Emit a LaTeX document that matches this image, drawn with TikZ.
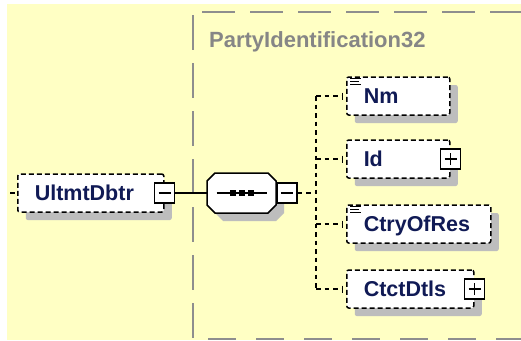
\documentclass[tikz,border=0pt]{standalone}
\usepackage{fontspec}
\setmainfont{Liberation Sans}
\usepackage{xcolor}
\usepackage{tikz}
\usetikzlibrary{arrows.meta, positioning, shadows}
\definecolor{xpaper}{HTML}{FFFFC4}
\definecolor{xgroup}{HTML}{8E8E8E}
\definecolor{xlabel}{HTML}{868686}
\definecolor{xname}{HTML}{101A55}
\definecolor{xshadow}{HTML}{BDBDBD}

\begin{document}
\begin{tikzpicture}[x=1pt, y=-1pt,
  shade8/.style={drop shadow={shadow xshift=8pt, shadow yshift=-8pt, fill=xshadow, opacity=1}},
  elem/.style={draw, fill=white, line width=1.5pt, dash pattern=on 5pt off 3pt,
    rounded corners=2pt, anchor=west, minimum height=38pt, inner xsep=17pt,
    text width=#1, align=left, text height=15.5pt, text depth=0pt,
    font=\fontsize{21.5}{24}\selectfont\bfseries, text=xname, shade8},
  ctlbox/.style={draw, fill=white, line width=1.5pt, minimum size=20pt, inner sep=0pt},
  minusbox/.style={ctlbox, path picture={
    \draw[line width=1.3pt] ([xshift=4pt]path picture bounding box.west) -- ([xshift=-4pt]path picture bounding box.east);}},
  plusbox/.style={ctlbox, path picture={
    \draw[line width=1.3pt] ([xshift=4pt]path picture bounding box.west) -- ([xshift=-4pt]path picture bounding box.east);
    \draw[line width=1.3pt] ([yshift=4pt]path picture bounding box.south) -- ([yshift=-4pt]path picture bounding box.north);}},
  link/.style={line width=1.8pt, dash pattern=on 4.5pt off 4pt},
  tick/.style={-{Bar[width=7pt, line width=1.4pt]}, shorten >=3pt}]
\useasboundingbox (0,0) rectangle (521,340);
\fill[white] (0,0) rectangle (521,340);
\fill[xpaper] (7,4) rectangle (521,340);
% group frame
\draw[xgroup, line width=2.5pt, dash pattern=on 35pt off 13pt] (193,15) -- (193,340);
\draw[xgroup, line width=2.5pt, dash pattern=on 33pt off 15pt] (202,12) -- (525,12);
\draw[xgroup, line width=2.5pt, dash pattern=on 28pt off 20pt] (208,339) -- (525,339);
\node[font=\fontsize{22}{24}\selectfont\bfseries, text=xlabel, anchor=base west, inner sep=0pt]
  (grplabel) at (209,47) {PartyIdentification32};

\node[elem=112pt] (ultm) at (17,193) {UltmtDbtr};
\node[minusbox] (ultmctl) at (ultm.east) {};
\coordinate (ultmin) at (10,193);
\draw[link] (ultmin) -- (ultm.west);

% sequence compositor
\draw[fill=white, line width=1.5pt, shade8] (215,173) -- (268,173) -- (276,181) -- (276,205)
  -- (268,213) -- (215,213) -- (207,205) -- (207,181) -- cycle;
\node[minimum width=69pt, minimum height=40pt, inner sep=0pt] (seq) at (241.5,193) {};
\draw[line width=1.5pt] ([xshift=-25pt]seq.center) -- ([xshift=25pt]seq.center);
\foreach \dx in {-9,0,9}
  \fill ([xshift=\dx pt]seq.center) +(-3,-3) rectangle +(3,3);
\node[minusbox, right=0pt of seq] (seqctl) {};
\draw[line width=1.5pt] (ultmctl.east) -- (seq.west);

\node[elem=69pt] (nm) at (346,96) {Nm};
\node[elem=69pt] (id) at (346,159) {Id};
\node[elem=110pt] (ctry) at (346,224) {CtryOfRes};
\node[elem=93pt] (ctct) at (346,289) {CtctDtls};
\node[plusbox] (idctl) at (id.east) {};
\node[plusbox] (ctctctl) at (ctct.east) {};

% simple-content marks
\foreach \el in {nm,ctry}
  \foreach \dy/\len in {2.5/11,5.5/9,8.5/11}
    \draw[line width=1.2pt] ([shift={(4,\dy)}]\el.north west) -- ++(\len,0);

\coordinate (fork) at (316,193);
\draw[link] (seqctl.east) -- (fork);
\draw[link] (fork |- nm.west) -- (fork |- ctct.west);
\foreach \el in {nm,id,ctry,ctct}
  \draw[link, tick] (fork |- \el.west) -- (\el.west);
\end{tikzpicture}
\end{document}
